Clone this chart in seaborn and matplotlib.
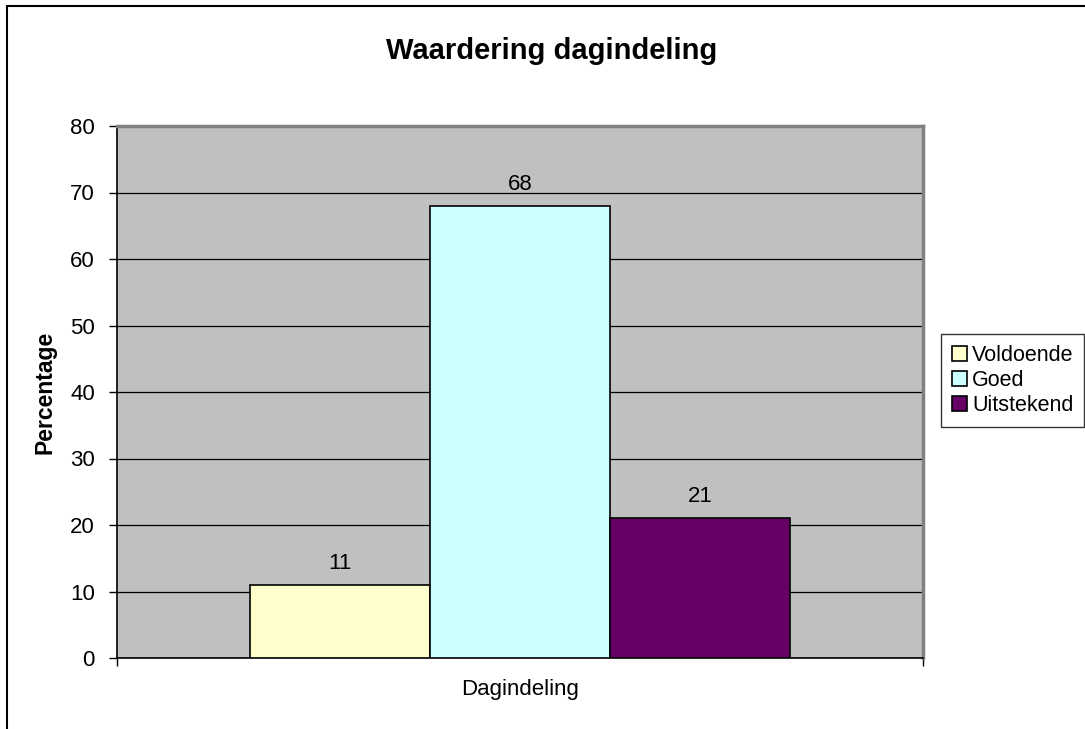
import matplotlib
matplotlib.use("Agg")
import matplotlib.pyplot as plt
import seaborn as sns
import pandas as pd
from matplotlib.lines import Line2D
from matplotlib.patches import Patch
from matplotlib.ticker import FixedLocator

category = ["Dagindeling"]
series = ["Voldoende", "Goed", "Uitstekend"]
values = [11, 68, 21]
colors = ["#FFFFCC", "#CCFFFF", "#660066"]
yticks = [0, 10, 20, 30, 40, 50, 60, 70, 80]

df = pd.DataFrame({"cat": category * len(series), "serie": series, "val": values})

sns.set_theme(style="white")
plt.rcParams["font.family"] = ["Liberation Sans", "DejaVu Sans"]
plt.rcParams["text.color"] = "black"
plt.rcParams["axes.labelcolor"] = "black"
plt.rcParams["xtick.color"] = "black"
plt.rcParams["ytick.color"] = "black"

fig = plt.figure(figsize=(10.85, 7.29), dpi=100)
ax = fig.add_axes([117/1085, 1-658/729, (923-117)/1085, (658-126)/729])
ax.set_facecolor("#C0C0C0")

sns.barplot(data=df, x="cat", y="val", hue="serie", palette=colors,
            width=0.67, edgecolor="black", linewidth=1.2, ax=ax, legend=False,
            zorder=3, saturation=1)

ax.set_ylim(0, 80)
ax.set_xlim(-0.5, 0.5)
ax.set_yticks(yticks)
ax.tick_params(axis="y", labelsize=16, length=6, width=1, color="black", direction="out", pad=10, left=True)
ax.yaxis.grid(True, color="black", linewidth=0.9, zorder=1)
ax.set_axisbelow(True)
ax.set_xticks([0])
ax.set_xticklabels(category, fontsize=16)
ax.tick_params(axis="x", which="major", length=0, pad=15)
ax.xaxis.set_minor_locator(FixedLocator([-0.5, 0.5]))
ax.tick_params(axis="x", which="minor", length=6, width=1, color="black", direction="out", bottom=True)
ax.set_xlabel("")
ax.set_ylabel("Percentage", fontsize=16.5, fontweight="bold", labelpad=10)

for s in ["left", "bottom"]:
    ax.spines[s].set_color("black")
    ax.spines[s].set_linewidth(1.2)
for s in ["top", "right"]:
    ax.spines[s].set_color("#808080")
    ax.spines[s].set_linewidth(2.5)

for cont in ax.containers:
    ax.bar_label(cont, fmt="%d", padding=8, fontsize=16, color="black")

fig.text(552/1085, 1-51/729, "Waardering dagindeling", fontsize=21, fontweight="bold",
         ha="center", va="center", color="black")

handles = [Patch(facecolor=c, edgecolor="black", linewidth=1.2, label=s) for c, s in zip(colors, series)]
leg = fig.legend(handles=handles, loc="upper left", bbox_to_anchor=(941/1085, 1-334/729),
                 fontsize=15.5, frameon=True, fancybox=False, edgecolor="black",
                 handlelength=0.7, handleheight=0.7, handletextpad=0.25,
                 borderpad=0.5, labelspacing=0.2, borderaxespad=0)
leg.get_frame().set_linewidth(1.0)
for t in leg.get_texts():
    t.set_color("black")

fig.add_artist(Line2D([7/1085, 7/1085], [0, 1-6/729], color="black", linewidth=1.5, transform=fig.transFigure))
fig.add_artist(Line2D([7/1085, 1], [1-6/729, 1-6/729], color="black", linewidth=1.5, transform=fig.transFigure))

fig.savefig("out.png", dpi=100, facecolor="white")
